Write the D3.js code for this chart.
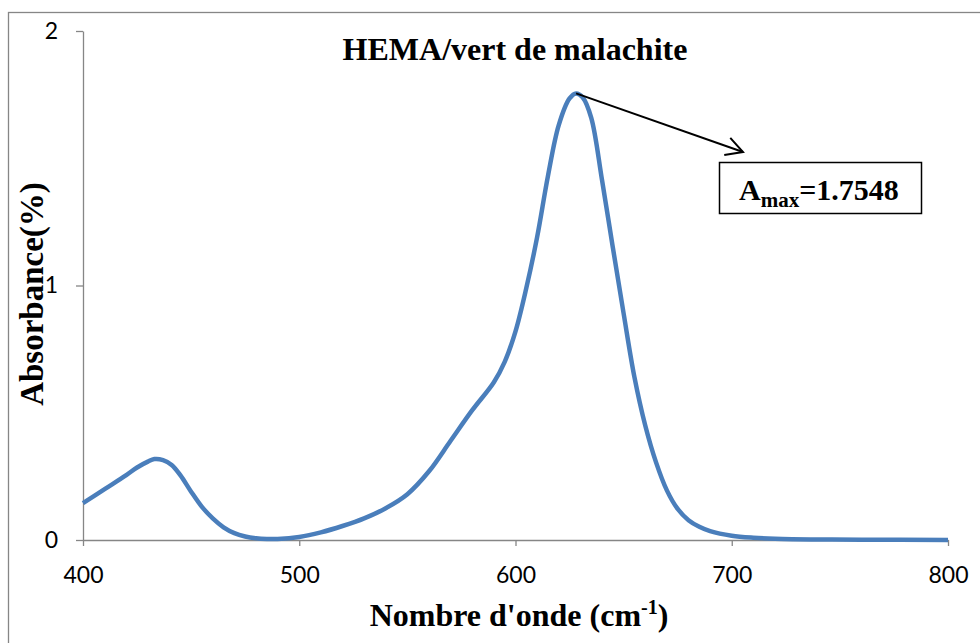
<!DOCTYPE html>
<html>
<head>
<meta charset="utf-8">
<script src="https://cdn.jsdelivr.net/npm/d3@7"></script>
<style>
  body { margin: 0; background: #fff; }
  svg { display: block; }
  .tick text { font-family: Lato, "Open Sans", sans-serif; font-size: 23px; fill: #000; }
  .axis path, .axis line { stroke: #868686; stroke-width: 1.3; }
  .serif { font-family: "Liberation Serif", "Times New Roman", serif; font-weight: bold; fill: #000; }
</style>
</head>
<body>
<svg id="chart" width="980" height="643"></svg>
<script>
// wavenumber (x) and absorbance (y)
var wavenumber = [400, 410, 420, 425, 430, 433, 437, 441, 445, 450, 455, 460, 465, 470, 475, 480, 485, 490,
  500, 510, 520, 530, 540, 550, 560, 570, 580, 590, 595, 600, 605, 610, 615, 620, 625, 628,
  631, 635, 640, 645, 650, 655, 660, 665, 670, 675, 680, 685, 690, 700, 710, 720, 740, 760, 800]
var absorbance = [0.145, 0.20, 0.255, 0.285, 0.308, 0.318, 0.314, 0.295, 0.255, 0.19, 0.13, 0.085, 0.05, 0.027, 0.014, 0.007, 0.004, 0.004,
  0.012, 0.03, 0.055, 0.085, 0.125, 0.18, 0.27, 0.39, 0.51, 0.62, 0.70, 0.82, 0.99, 1.19, 1.43, 1.63, 1.735, 1.7548,
  1.74, 1.66, 1.415, 1.15, 0.89, 0.64, 0.45, 0.305, 0.195, 0.122, 0.078, 0.052, 0.035, 0.017, 0.009, 0.005, 0.002, 0.001, 0]
var xTicks = [400, 500, 600, 700, 800]
var yTicks = [0, 1, 2]
var peakX = 628, peakValue = 1.7548

var title = "HEMA/vert de malachite"
var yTitle = "Absorbance(%)"

var data = wavenumber.map(function(w, i) { return {w: w, a: absorbance[i]} })

var svg = d3.select("#chart")

// outer chart frame (runs off the right and bottom edges)
svg.append("rect")
  .attr("x", 8.5).attr("y", 12.5)
  .attr("width", 1200).attr("height", 1200)
  .attr("fill", "none").attr("stroke", "#868686").attr("stroke-width", 1.3)

var xScale = d3.scaleLinear().domain([400, 800]).range([83, 948])
var yScale = d3.scaleLinear().domain([0, 2]).range([540, 31])

svg.append("g")
  .attr("class", "axis")
  .attr("transform", "translate(0," + yScale(0) + ")")
  .call(d3.axisBottom(xScale).tickValues(xTicks).tickSize(6).tickSizeOuter(0).tickPadding(21).tickFormat(d3.format("d")))

svg.append("g")
  .attr("class", "axis")
  .attr("transform", "translate(" + xScale(400) + ",0)")
  .call(d3.axisLeft(yScale).tickValues(yTicks).tickSize(7).tickSizeOuter(0).tickPadding(18).tickFormat(d3.format("d")))

svg.selectAll(".axis .domain").attr("stroke", "#868686")

var line = d3.line()
  .curve(d3.curveCatmullRom.alpha(0.5))
  .x(function(d) { return xScale(d.w) })
  .y(function(d) { return yScale(d.a) })

svg.append("path")
  .datum(data)
  .attr("d", line)
  .attr("fill", "none")
  .attr("stroke", "#4A7EBB")
  .attr("stroke-width", 4.5)
  .attr("stroke-linejoin", "round")

// title
svg.append("text")
  .attr("class", "serif")
  .attr("x", 515).attr("y", 60)
  .attr("text-anchor", "middle")
  .style("font-size", "32px")
  .text(title)

// axis titles
svg.append("text")
  .attr("class", "serif")
  .attr("transform", "translate(43,294) rotate(-90)")
  .attr("text-anchor", "middle")
  .style("font-size", "33px")
  .text(yTitle)

var xt = svg.append("text")
  .attr("class", "serif")
  .attr("x", 519).attr("y", 626)
  .attr("text-anchor", "middle")
  .style("font-size", "32px")
xt.append("tspan").text("Nombre d'onde (cm")
xt.append("tspan").attr("dy", -12).style("font-size", "20px").text("-1")
xt.append("tspan").attr("dy", 12).text(")")

// peak annotation
var px = xScale(peakX), py = yScale(peakValue)
var tipX = 743, tipY = 152
svg.append("line")
  .attr("x1", px).attr("y1", py)
  .attr("x2", tipX).attr("y2", tipY)
  .attr("stroke", "#000").attr("stroke-width", 2)

var ang = Math.atan2(tipY - py, tipX - px)
var head = d3.path()
head.moveTo(tipX - 19 * Math.cos(ang - 0.5), tipY - 19 * Math.sin(ang - 0.5))
head.lineTo(tipX, tipY)
head.lineTo(tipX - 19 * Math.cos(ang + 0.5), tipY - 19 * Math.sin(ang + 0.5))
svg.append("path")
  .attr("d", head.toString())
  .attr("fill", "none").attr("stroke", "#000").attr("stroke-width", 2)

svg.append("rect")
  .attr("x", 719.5).attr("y", 162.5)
  .attr("width", 202).attr("height", 51)
  .attr("fill", "#fff").attr("stroke", "#000").attr("stroke-width", 1.5)

var at = svg.append("text")
  .attr("class", "serif")
  .attr("x", 739).attr("y", 200)
  .style("font-size", "30px")
at.append("tspan").text("A")
at.append("tspan").attr("dy", 7).style("font-size", "21px").text("max")
at.append("tspan").attr("dy", -7).text("=" + peakValue)
</script>
</body>
</html>
